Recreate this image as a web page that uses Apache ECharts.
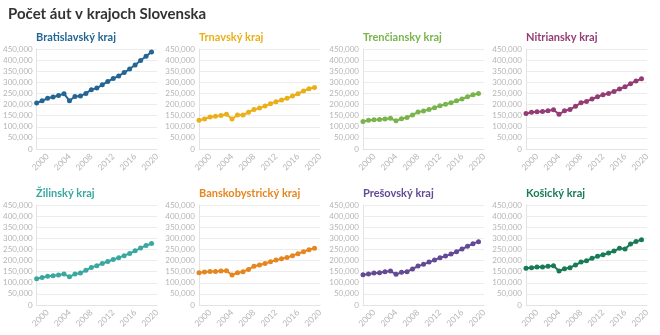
<!DOCTYPE html>
<html><head><meta charset="utf-8">
<script src="https://cdn.jsdelivr.net/npm/echarts@6/dist/echarts.min.js"></script>
<style>html,body{margin:0;padding:0;background:#fff}#c{width:660px;height:335px}</style>
</head><body><div id="c"></div>
<script>
const years = [1998,1999,2000,2001,2002,2003,2004,2005,2006,2007,2008,2009,2010,2011,2012,2013,2014,2015,2016,2017,2018,2019];
const regionNames = ["Bratislavský kraj","Trnavský kraj","Trenčiansky kraj","Nitriansky kraj","Žilinský kraj","Banskobystrický kraj","Prešovský kraj","Košický kraj"];
const bratislava = [207000,217000,228000,234000,241000,249000,217000,236000,238000,250000,267000,274000,289000,304000,317000,329000,344000,360000,378000,398000,417000,437000];
const trnava = [129000,135000,144000,147000,151000,156000,135000,153000,153000,165000,178000,184000,193000,204000,213000,220000,228000,238000,249000,261000,271000,277000];
const trencin = [124000,129000,132000,133000,135000,138000,127000,136000,142000,153000,166000,171000,178000,186000,195000,201000,208000,217000,225000,235000,244000,250000];
const nitra = [160000,165000,168000,169000,172000,177000,156000,172000,178000,192000,208000,214000,225000,235000,244000,250000,259000,270000,280000,294000,306000,316000];
const zilina = [118000,124000,129000,132000,135000,139000,127000,139000,144000,156000,169000,177000,187000,196000,205000,213000,222000,232000,244000,256000,268000,277000];
const banskaBystrica = [145000,148000,151000,151000,153000,154000,135000,145000,150000,160000,174000,180000,187000,195000,202000,208000,214000,222000,231000,240000,249000,255000];
const presov = [136000,139000,144000,145000,150000,153000,138000,147000,150000,162000,175000,183000,193000,202000,213000,220000,229000,240000,252000,264000,276000,285000];
const kosice = [165000,168000,171000,171000,174000,177000,153000,163000,168000,180000,193000,199000,210000,219000,226000,234000,243000,255000,252000,274000,286000,294000];
const seriesValues = [bratislava,trnava,trencin,nitra,zilina,banskaBystrica,presov,kosice];
const colors = ["#236694","#e9b01a","#7ab44c","#943d74","#3aa7a1","#e6861f","#634a94","#187b56"];
const yTicks = [0,50000,100000,150000,200000,250000,300000,350000,400000,450000];
const xTickLabels = [2000,2004,2008,2012,2016,2020];

const FONT = "Lato";
const colLeft = [36,199,363,526];
const rowTop = [49,205];
const gw = 121, gh = 100;

const grids=[], xAxes=[], yAxes=[], series=[], titles=[];
titles.push({text:"Počet áut v krajoch Slovenska", left:8, top:7, padding:0,
  textStyle:{fontFamily:FONT,fontSize:15,fontWeight:"bold",color:"#333"}});
for(let i=0;i<8;i++){
  const c=i%4, r=Math.floor(i/4);
  grids.push({left:colLeft[c], top:rowTop[r], width:gw, height:gh});
  titles.push({text:regionNames[i], left:colLeft[c], top:rowTop[r]-17, padding:0,
    textStyle:{fontFamily:FONT,fontSize:11,fontWeight:"bold",color:colors[i]}});
  xAxes.push({type:"value", gridIndex:i, min:1998, max:2020, interval:2,
    axisLine:{show:true,lineStyle:{color:"#e3e3e3"}}, axisTick:{show:false}, splitLine:{show:false},
    axisLabel:{rotate:45, fontFamily:FONT, fontSize:8.5, color:"#b5b5b5", margin:6,
      formatter:v=> xTickLabels.includes(v)? String(v):""}});
  yAxes.push({type:"value", gridIndex:i, min:yTicks[0], max:yTicks[yTicks.length-1], interval:50000,
    axisLine:{show:true,lineStyle:{color:"#e3e3e3"}}, axisTick:{show:false},
    splitLine:{show:true,lineStyle:{color:"#ececec"}},
    axisLabel:{fontFamily:FONT, fontSize:8, color:"#b5b5b5", margin:4,
      formatter:v=> v.toLocaleString("en-US")}});
  series.push({type:"line", xAxisIndex:i, yAxisIndex:i,
    data: years.map((y,k)=>[y, seriesValues[i][k]]),
    symbol:"circle", symbolSize:5, showSymbol:true,
    lineStyle:{color:colors[i], width:2}, itemStyle:{color:colors[i]}, animation:false});
}
const chart = echarts.init(document.getElementById("c"), null, {renderer:"canvas"});
chart.setOption({animation:false, title:titles, grid:grids, xAxis:xAxes, yAxis:yAxes, series});
</script></body></html>
